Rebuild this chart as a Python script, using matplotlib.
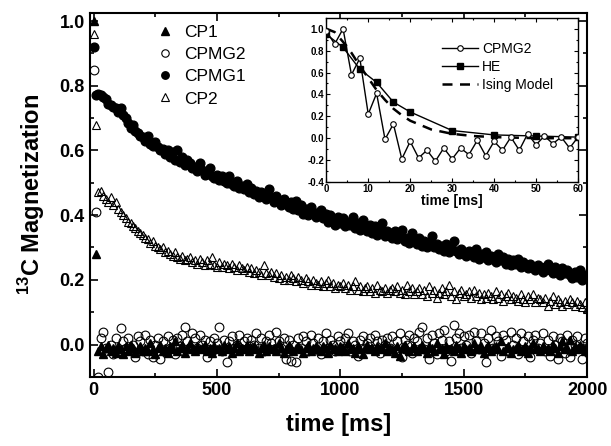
import numpy as np
import matplotlib
matplotlib.use("Agg")
import matplotlib.pyplot as plt

plt.rcParams['font.family'] = ['Liberation Sans', 'DejaVu Sans']
plt.rcParams['mathtext.fontset'] = 'custom'
plt.rcParams['mathtext.rm'] = 'Liberation Sans'
plt.rcParams['mathtext.bf'] = 'Liberation Sans:bold'

# ---- main panel data (time in ms) ----
t_grid = np.arange(10, 2001, 10)

cpmg1_t0, cpmg1_v0 = [0], [0.92]
cpmg1 = [
    0.77, 0.775, 0.77, 0.765, 0.76, 0.745, 0.74, 0.735, 0.73, 0.72,
    0.73, 0.71, 0.70, 0.685, 0.67, 0.68, 0.66, 0.655, 0.645, 0.64,
    0.63, 0.645, 0.62, 0.615, 0.625, 0.61, 0.60, 0.605, 0.59, 0.60,
    0.58, 0.595, 0.57, 0.60, 0.565, 0.58, 0.555, 0.57, 0.56, 0.545,
    0.55, 0.535, 0.56, 0.54, 0.525, 0.53, 0.545, 0.52, 0.515, 0.525,
    0.51, 0.52, 0.505, 0.50, 0.52, 0.495, 0.49, 0.505, 0.485, 0.49,
    0.48, 0.495, 0.47, 0.485, 0.465, 0.475, 0.455, 0.47, 0.46, 0.45,
    0.48, 0.455, 0.44, 0.46, 0.445, 0.43, 0.45, 0.435, 0.425, 0.44,
    0.42, 0.445, 0.415, 0.43, 0.405, 0.42, 0.40, 0.425, 0.41, 0.395,
    0.40, 0.415, 0.39, 0.405, 0.38, 0.40, 0.385, 0.37, 0.395, 0.375,
    0.39, 0.365, 0.38, 0.37, 0.395, 0.36, 0.375, 0.355, 0.385, 0.36,
    0.35, 0.37, 0.345, 0.365, 0.34, 0.355, 0.375, 0.335, 0.35, 0.345,
    0.33, 0.35, 0.325, 0.34, 0.355, 0.32, 0.33, 0.315, 0.345, 0.325,
    0.31, 0.33, 0.305, 0.32, 0.30, 0.315, 0.335, 0.30, 0.31, 0.295,
    0.305, 0.29, 0.31, 0.285, 0.30, 0.32, 0.29, 0.28, 0.295, 0.285,
    0.275, 0.29, 0.28, 0.27, 0.295, 0.265, 0.28, 0.27, 0.285, 0.26,
    0.275, 0.265, 0.255, 0.28, 0.26, 0.27, 0.25, 0.265, 0.245, 0.26,
    0.25, 0.265, 0.24, 0.255, 0.245, 0.235, 0.25, 0.24, 0.23, 0.245,
    0.235, 0.225, 0.24, 0.25, 0.23, 0.22, 0.24, 0.225, 0.215, 0.235,
    0.22, 0.23, 0.215, 0.205, 0.225, 0.21, 0.23, 0.20, 0.215, 0.205,
]

cp2_t0, cp2_v0 = [0], [0.96]
cp2 = [
    0.68, 0.47, 0.475, 0.46, 0.45, 0.44, 0.455, 0.43, 0.44, 0.42,
    0.41, 0.40, 0.39, 0.38, 0.375, 0.365, 0.36, 0.35, 0.345, 0.34,
    0.33, 0.325, 0.315, 0.32, 0.305, 0.30, 0.295, 0.30, 0.285, 0.29,
    0.28, 0.275, 0.285, 0.27, 0.265, 0.275, 0.26, 0.265, 0.27, 0.255,
    0.26, 0.25, 0.265, 0.255, 0.245, 0.26, 0.25, 0.27, 0.245, 0.24,
    0.255, 0.24, 0.25, 0.245, 0.235, 0.25, 0.24, 0.23, 0.245, 0.235,
    0.23, 0.24, 0.225, 0.235, 0.22, 0.23, 0.225, 0.215, 0.245, 0.22,
    0.215, 0.225, 0.21, 0.22, 0.205, 0.215, 0.20, 0.21, 0.20, 0.215,
    0.205, 0.195, 0.21, 0.20, 0.19, 0.205, 0.195, 0.185, 0.20, 0.19,
    0.185, 0.195, 0.18, 0.19, 0.20, 0.18, 0.19, 0.175, 0.185, 0.18,
    0.19, 0.175, 0.185, 0.17, 0.18, 0.195, 0.17, 0.18, 0.165, 0.175,
    0.18, 0.165, 0.175, 0.16, 0.185, 0.17, 0.165, 0.175, 0.16, 0.17,
    0.175, 0.165, 0.18, 0.16, 0.17, 0.155, 0.185, 0.165, 0.175, 0.155,
    0.165, 0.175, 0.155, 0.17, 0.15, 0.18, 0.16, 0.17, 0.145, 0.16,
    0.175, 0.155, 0.165, 0.185, 0.15, 0.165, 0.14, 0.16, 0.17, 0.15,
    0.155, 0.165, 0.145, 0.17, 0.15, 0.16, 0.14, 0.155, 0.145, 0.16,
    0.15, 0.14, 0.165, 0.145, 0.155, 0.135, 0.15, 0.16, 0.14, 0.15,
    0.145, 0.135, 0.155, 0.14, 0.13, 0.15, 0.14, 0.155, 0.13, 0.145,
    0.14, 0.13, 0.145, 0.12, 0.135, 0.15, 0.125, 0.14, 0.13, 0.12,
    0.135, 0.125, 0.14, 0.13, 0.12, 0.135, 0.125, 0.115, 0.13, 0.11,
]

cpmg2_t0, cpmg2_v0 = [0], [0.85]
cpmg2 = [
    0.41, -0.10, 0.02, 0.04, -0.01, -0.086, 0.0, -0.03, 0.02, -0.02,
    0.05, 0.01, -0.01, 0.02, -0.015, 0.0, -0.04, 0.025, 0.01, -0.02,
    0.03, -0.03, 0.015, -0.04, 0.0, 0.02, -0.045, 0.01, -0.02, 0.025,
    -0.01, 0.015, -0.03, 0.02, -0.005, 0.03, 0.055, 0.01, -0.01, 0.035,
    0.02, -0.01, 0.03, 0.0, 0.015, -0.04, 0.01, -0.02, 0.02, 0.005,
    0.055, -0.02, 0.015, -0.055, 0.01, 0.025, -0.01, 0.0, 0.03, -0.015,
    0.01, 0.02, -0.005, 0.015, 0.0, 0.035, -0.01, 0.02, -0.02, 0.01,
    0.03, 0.005, -0.015, 0.04, 0.01, -0.01, 0.02, -0.045, 0.015, -0.05,
    0.0, -0.055, 0.02, -0.01, 0.025, 0.01, -0.02, 0.03, 0.005, -0.015,
    0.02, -0.03, 0.01, 0.035, -0.01, 0.015, 0.0, -0.02, 0.025, 0.01,
    -0.01, 0.02, 0.035, -0.02, 0.01, 0.0, -0.035, 0.015, 0.025, -0.01,
    0.005, 0.02, -0.015, 0.03, 0.01, -0.025, 0.015, 0.0, 0.02, -0.01,
    0.025, -0.02, 0.01, 0.035, -0.04, 0.015, 0.0, 0.03, -0.025, 0.02,
    0.01, 0.04, 0.055, -0.015, 0.02, -0.045, 0.03, 0.005, -0.03, 0.035,
    0.015, 0.045, -0.02, 0.01, -0.05, 0.06, 0.02, 0.035, -0.01, 0.025,
    0.0, 0.03, -0.025, 0.04, 0.01, -0.015, 0.035, 0.005, -0.055, 0.02,
    0.045, -0.01, 0.025, 0.01, -0.035, 0.03, 0.015, -0.02, 0.04, 0.0,
    0.02, -0.03, 0.035, 0.01, -0.015, 0.025, -0.04, 0.015, 0.03, -0.01,
    0.005, 0.035, -0.02, 0.015, -0.035, 0.025, 0.0, -0.045, 0.02, 0.01,
    -0.025, 0.03, -0.04, 0.015, 0.0, 0.025, -0.01, -0.045, 0.02, 0.005,
]

cp1_t0, cp1_v0 = [0], [1.0]
cp1 = [
    0.28, -0.02, -0.005, -0.03, -0.01, 0.0, -0.02, -0.01, -0.025, -0.005,
    -0.015, -0.03, -0.005, -0.02, 0.0, -0.01, -0.025, -0.015, -0.005, -0.02,
    -0.01, -0.02, 0.005, -0.015, -0.03, -0.01, 0.0, -0.02, -0.01, -0.025,
    -0.005, -0.015, 0.01, -0.02, -0.01, 0.0, -0.025, -0.01, 0.005, -0.015,
    -0.02, -0.005, -0.015, -0.01, 0.0, -0.02, -0.01, -0.025, -0.005, -0.015,
    -0.01, -0.02, 0.0, -0.015, -0.005, -0.025, -0.01, 0.005, -0.02, -0.01,
    -0.015, 0.0, -0.02, -0.01, -0.005, -0.015, -0.025, -0.01, 0.0, -0.02,
    -0.005, -0.015, -0.01, -0.02, 0.005, -0.01, -0.025, -0.015, 0.0, -0.01,
    -0.02, -0.01, -0.005, -0.015, -0.025, -0.01, 0.0, -0.02, -0.01, -0.005,
    -0.015, -0.02, -0.005, -0.01, -0.025, 0.0, -0.015, -0.01, -0.02, -0.005,
    -0.01, -0.02, 0.005, -0.015, -0.01, -0.025, -0.005, -0.015, -0.03, -0.01,
    0.0, -0.015, -0.01, -0.02, -0.005, -0.015, -0.01, 0.005, -0.02, -0.01,
    -0.015, -0.025, -0.005, -0.035, -0.01, 0.0, -0.015, -0.02, -0.01, -0.005,
    -0.02, -0.01, 0.0, -0.015, -0.025, -0.005, -0.01, -0.02, 0.005, -0.015,
    -0.01, -0.03, -0.005, -0.015, -0.01, -0.02, 0.0, -0.01, -0.025, -0.005,
    -0.015, -0.01, -0.02, 0.005, -0.01, -0.015, -0.005, -0.025, -0.01, 0.0,
    -0.02, -0.01, -0.005, -0.015, 0.01, -0.02, -0.01, -0.005, -0.025, -0.015,
    -0.01, 0.0, -0.02, -0.015, -0.005, -0.025, -0.01, 0.005, -0.015, -0.01,
    -0.02, -0.005, -0.015, -0.01, -0.02, 0.0, -0.01, -0.025, -0.005, 0.01,
    -0.015, -0.01, 0.015, -0.02, -0.005, -0.015, 0.0, -0.01, -0.02, -0.005,
]

# ---- inset data (time in ms) ----
in_cpmg2_t = list(range(0, 61, 2))
in_cpmg2 = [0.98, 0.86, 1.0, 0.58, 0.73, 0.22, 0.41, -0.01, 0.13, -0.19,
            -0.03, -0.18, -0.11, -0.21, -0.09, -0.19, -0.09, -0.15, -0.02, -0.16,
            -0.03, -0.11, 0.01, -0.11, 0.04, -0.06, 0.02, -0.05, 0.01, -0.09, 0.01]
he_t = [0, 4, 8, 12, 16, 20, 30, 40, 50, 60]
he = [0.95, 0.83, 0.63, 0.51, 0.33, 0.24, 0.07, 0.03, 0.02, 0.01]
ising_t = [0, 2, 4, 6, 8, 10, 12, 14, 16, 18, 20, 25, 30, 35, 40, 50, 60]
ising = [1.0, 0.97, 0.88, 0.78, 0.66, 0.55, 0.44, 0.35, 0.27, 0.21, 0.16,
         0.08, 0.04, 0.02, 0.01, 0.0, 0.0]


def style_axis(ax, lw, major, minor, size):
    for s in ax.spines.values():
        s.set_linewidth(lw)
    ax.tick_params(which='both', direction='in', top=True, right=True, width=lw * 0.8)
    ax.tick_params(which='major', length=major, labelsize=size)
    ax.tick_params(which='minor', length=minor)
    for lab in ax.get_xticklabels() + ax.get_yticklabels():
        lab.set_fontweight('bold')


fig = plt.figure(figsize=(6.11, 4.46), dpi=100)
ax = fig.add_axes([0.147, 0.155, 0.814, 0.816])

ms = 6.3
ax.plot(cp1_t0 + list(t_grid), cp1_v0 + cp1, '^', color='black', ms=ms, ls='none', label='CP1')
ax.plot(cpmg2_t0 + list(t_grid), cpmg2_v0 + cpmg2, 'o', mfc='none', mec='black', mew=0.8,
        ms=ms, ls='none', label='CPMG2')
ax.plot(cpmg1_t0 + list(t_grid), cpmg1_v0 + cpmg1, 'o', color='black', ms=ms, ls='none', label='CPMG1')
ax.plot(cp2_t0 + list(t_grid), cp2_v0 + cp2, '^', mfc='none', mec='black', mew=0.8,
        ms=ms, ls='none', label='CP2')

ax.set_xlim(-15, 2000)
ax.set_ylim(-0.1, 1.025)
ax.set_xticks([0, 500, 1000, 1500, 2000])
ax.set_xticks([250, 750, 1250, 1750], minor=True)
ax.set_yticks([0.0, 0.2, 0.4, 0.6, 0.8, 1.0])
ax.set_yticks([0.1, 0.3, 0.5, 0.7, 0.9], minor=True)
ax.set_yticklabels(['0.0', '0.2', '0.4', '0.6', '0.8', '1.0'])
style_axis(ax, 1.5, 5.5, 3, 13)
ax.set_xlabel('time [ms]', fontsize=17, fontweight='bold', labelpad=10)
ax.set_ylabel(r'$^{\mathbf{13}}$C Magnetization', fontsize=17, fontweight='bold', labelpad=9)

ax.legend(loc='upper left', bbox_to_anchor=(0.11, 1.0), frameon=False, fontsize=12.5,
          handlelength=1.0, handletextpad=0.6, labelspacing=0.4, borderaxespad=0.3,
          markerscale=0.85)

# ---- inset ----
ins = fig.add_axes([0.534, 0.592, 0.412, 0.368])
ins.plot(in_cpmg2_t, in_cpmg2, '-o', color='black', lw=1.0, mfc='white', mec='black',
         mew=0.8, ms=4, label='CPMG2', zorder=3)
ins.plot(he_t, he, '-s', color='black', lw=1.0, ms=4, label='HE', zorder=2)
ins.plot(ising_t, ising, '--', color='black', lw=1.8, dashes=(4, 3), label='Ising Model', zorder=2)
ins.set_xlim(0, 60)
ins.set_ylim(-0.4, 1.1)
ins.set_xticks([0, 10, 20, 30, 40, 50, 60])
ins.set_xticks([5, 15, 25, 35, 45, 55], minor=True)
ins.set_yticks([-0.4, -0.2, 0.0, 0.2, 0.4, 0.6, 0.8, 1.0])
ins.set_yticklabels(['-0.4', '-0.2', '0.0', '0.2', '0.4', '0.6', '0.8', '1.0'])
ins.set_yticks([-0.3, -0.1, 0.1, 0.3, 0.5, 0.7, 0.9], minor=True)
style_axis(ins, 1.0, 3, 1.5, 7)
ins.tick_params(axis='both', pad=1.5)
ins.set_xlabel('time [ms]', fontsize=10, fontweight='bold', labelpad=0)
ins.legend(loc='upper right', bbox_to_anchor=(0.95, 0.93), frameon=False, fontsize=10,
           handlelength=2.6, handletextpad=0.3, labelspacing=0.3)

fig.savefig('out.png', dpi=100)
